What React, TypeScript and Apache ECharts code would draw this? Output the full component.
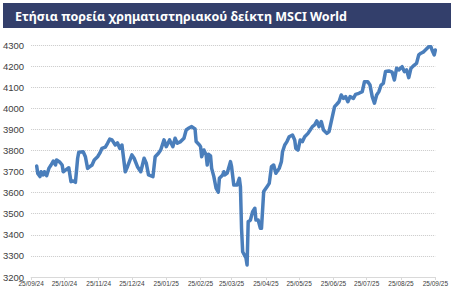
import React, { useEffect, useRef } from "react";
import * as echarts from "echarts";

const titleText = "Ετήσια πορεία χρηματιστηριακού δείκτη MSCI World";
const axisStart = "2024-09-25";
const axisEnd = "2025-09-25";
const yMin = 3200;
const yMax = 4300;
const yStep = 100;

const pointDates = [
  "30/09/24", "01/10/24", "03/10/24", "04/10/24", "06/10/24", "07/10/24", "09/10/24", "11/10/24", "13/10/24", "15/10/24",
  "17/10/24", "18/10/24", "21/10/24", "23/10/24", "24/10/24", "26/10/24", "29/10/24", "31/10/24", "02/11/24", "04/11/24",
  "06/11/24", "07/11/24", "11/11/24", "13/11/24", "15/11/24", "17/11/24", "19/11/24", "21/11/24", "24/11/24", "26/11/24",
  "28/11/24", "01/12/24", "03/12/24", "05/12/24", "07/12/24", "10/12/24", "12/12/24", "14/12/24", "16/12/24", "19/12/24",
  "21/12/24", "25/12/24", "27/12/24", "30/12/24", "02/01/25", "05/01/25", "07/01/25", "09/01/25", "13/01/25", "15/01/25",
  "18/01/25", "20/01/25", "23/01/25", "25/01/25", "28/01/25", "31/01/25", "02/02/25", "04/02/25", "07/02/25", "10/02/25",
  "12/02/25", "14/02/25", "17/02/25", "20/02/25", "21/02/25", "24/02/25", "25/02/25", "26/02/25", "28/02/25", "02/03/25",
  "03/03/25", "04/03/25", "06/03/25", "07/03/25", "09/03/25", "11/03/25", "13/03/25", "14/03/25", "17/03/25", "18/03/25",
  "19/03/25", "21/03/25", "24/03/25", "25/03/25", "27/03/25", "30/03/25", "01/04/25", "02/04/25", "03/04/25", "04/04/25",
  "07/04/25", "08/04/25", "09/04/25", "11/04/25", "13/04/25", "15/04/25", "16/04/25", "18/04/25", "20/04/25", "21/04/25",
  "23/04/25", "26/04/25", "28/04/25", "30/04/25", "02/05/25", "04/05/25", "07/05/25", "09/05/25", "10/05/25", "12/05/25",
  "14/05/25", "16/05/25", "19/05/25", "21/05/25", "22/05/25", "24/05/25", "26/05/25", "28/05/25", "30/05/25", "02/06/25",
  "04/06/25", "06/06/25", "08/06/25", "10/06/25", "12/06/25", "14/06/25", "16/06/25", "19/06/25", "21/06/25", "23/06/25",
  "24/06/25", "26/06/25", "28/06/25", "30/06/25", "02/07/25", "04/07/25", "06/07/25", "08/07/25", "10/07/25", "13/07/25",
  "15/07/25", "18/07/25", "21/07/25", "23/07/25", "26/07/25", "28/07/25", "30/07/25", "01/08/25", "03/08/25", "05/08/25",
  "07/08/25", "09/08/25", "11/08/25", "14/08/25", "17/08/25", "19/08/25", "21/08/25", "23/08/25", "26/08/25", "28/08/25",
  "30/08/25", "01/09/25", "03/09/25", "06/09/25", "08/09/25", "10/09/25", "12/09/25", "14/09/25", "16/09/25", "19/09/25",
  "21/09/25", "22/09/25", "24/09/25", "25/09/25",
];

const pointValues = [
  3726, 3691, 3676, 3699, 3684, 3699, 3680, 3715, 3731, 3750,
  3731, 3755, 3744, 3731, 3699, 3707, 3718, 3652, 3655, 3649,
  3763, 3791, 3794, 3770, 3715, 3723, 3731, 3755, 3770, 3787,
  3810, 3816, 3834, 3854, 3850, 3826, 3836, 3810, 3826, 3699,
  3723, 3779, 3763, 3723, 3699, 3763, 3739, 3684, 3676, 3770,
  3787, 3802, 3850, 3818, 3850, 3818, 3858, 3834, 3842, 3858,
  3897, 3905, 3913, 3902, 3842, 3826, 3818, 3770, 3802, 3779,
  3731, 3782, 3774, 3715, 3676, 3621, 3602, 3668, 3684, 3699,
  3684, 3692, 3747, 3723, 3636, 3636, 3668, 3628, 3430, 3320,
  3290, 3257, 3462, 3470, 3510, 3526, 3470, 3470, 3431, 3431,
  3605, 3628, 3644, 3723, 3731, 3692, 3715, 3747, 3794, 3826,
  3842, 3865, 3873, 3850, 3810, 3802, 3850, 3842, 3865, 3881,
  3897, 3913, 3921, 3940, 3913, 3937, 3897, 3881, 3889, 3937,
  3960, 4008, 4019, 4031, 4063, 4047, 4055, 4031, 4055, 4047,
  4066, 4071, 4079, 4126, 4126, 4110, 4055, 4024, 4063, 4079,
  4110, 4118, 4174, 4177, 4171, 4134, 4190, 4182, 4197, 4174,
  4182, 4145, 4190, 4205, 4213, 4253, 4261, 4266, 4276, 4292,
  4292, 4276, 4253, 4276,
];

function fmtDay(d: Date): string {
  const dd = String(d.getUTCDate()).padStart(2, "0");
  const mm = String(d.getUTCMonth() + 1).padStart(2, "0");
  const yy = String(d.getUTCFullYear() % 100).padStart(2, "0");
  return `${dd}/${mm}/${yy}`;
}

function buildDays(start: string, end: string): string[] {
  const out: string[] = [];
  const d = new Date(start + "T00:00:00Z");
  const e = new Date(end + "T00:00:00Z");
  while (d.getTime() <= e.getTime()) {
    out.push(fmtDay(d));
    d.setUTCDate(d.getUTCDate() + 1);
  }
  return out;
}

const W = 451;
const H = 289;

export default function App() {
  const ref = useRef<HTMLDivElement>(null);
  useEffect(() => {
    if (!ref.current) return;
    const chart = echarts.init(ref.current, undefined, { renderer: "svg" });
    const days = buildDays(axisStart, axisEnd);
    const isMonthTick = (_i: number, v: string) => v.startsWith("25/");
    chart.setOption({
      animation: false,
      backgroundColor: "#ffffff",
      grid: { left: 28, right: W - 443, top: 45, bottom: H - 277 },
      graphic: [
        {
          type: "rect",
          shape: { x: 3, y: 3, width: 448, height: 25 },
          style: { fill: "#333F6B" },
          silent: true,
        },
        {
          type: "text",
          x: 15,
          y: 16,
          style: {
            text: titleText,
            fill: "#ffffff",
            font: "bold 12.5px 'Noto Sans'",
            verticalAlign: "middle",
            align: "left",
          },
          silent: true,
        },
      ],
      xAxis: {
        type: "category",
        data: days,
        boundaryGap: false,
        axisLine: { show: true, lineStyle: { color: "#D9D9D9", width: 1 } },
        axisTick: { show: true, interval: isMonthTick, length: 3, lineStyle: { color: "#D9D9D9" } },
        axisLabel: {
          interval: isMonthTick,
          margin: 3,
          fontSize: 6.5,
          fontFamily: "'Liberation Sans'",
          color: "#404040",
        },
        splitLine: { show: false },
      },
      yAxis: {
        type: "value",
        min: yMin,
        max: yMax,
        interval: yStep,
        axisLine: { show: false },
        axisTick: { show: false },
        axisLabel: {
          margin: 7,
          fontSize: 9.5,
          fontFamily: "'Liberation Sans'",
          color: "#404040",
          formatter: (v: number) => String(v),
        },
        splitLine: { show: true, lineStyle: { color: "#C8C8C8", type: [1, 1], width: 1 } },
      },
      series: [
        {
          type: "line",
          data: pointDates.map((d, i) => [d, pointValues[i]]),
          showSymbol: false,
          symbol: "none",
          lineStyle: { color: "#4A7EBB", width: 3.5, cap: "round", join: "round" },
          smooth: false,
        },
      ],
    });
    return () => chart.dispose();
  }, []);
  return (
    <div
      ref={ref}
      style={{ position: "fixed", left: 0, top: 0, width: W, height: H, background: "#fff" }}
    />
  );
}
